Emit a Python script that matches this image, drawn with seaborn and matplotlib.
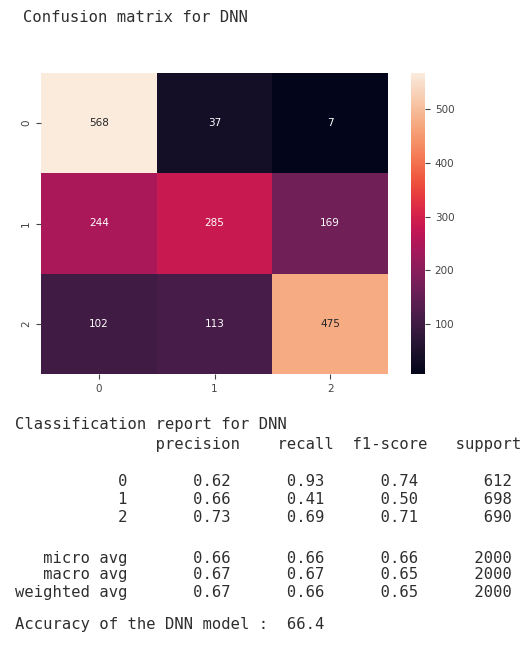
import numpy as np
import pandas as pd
import seaborn as sns
import matplotlib.pyplot as plt

# dados da matriz de confusao
classes = ['0', '1', '2']
linha_0 = [568, 37, 7]
linha_1 = [244, 285, 169]
linha_2 = [102, 113, 475]

# relatorio de classificacao
rotulos = ['0', '1', '2', 'micro avg', 'macro avg', 'weighted avg']
precision = [0.62, 0.66, 0.73, 0.66, 0.67, 0.67]
recall = [0.93, 0.41, 0.69, 0.66, 0.67, 0.66]
f1_score = [0.74, 0.50, 0.71, 0.66, 0.65, 0.65]
support = [612, 698, 690, 2000, 2000, 2000]
acuracia = 66.4

cm = pd.DataFrame([linha_0, linha_1, linha_2], index=classes, columns=classes)

fig = plt.figure(figsize=(5.2, 6.45), dpi=100)
W, H = 520, 645

def caixa(x0, y0, x1, y1):
    return [x0 / W, 1 - y1 / H, (x1 - x0) / W, (y1 - y0) / H]

ax = fig.add_axes(caixa(41, 73, 388, 374))
cax = fig.add_axes(caixa(411, 73, 425, 374))

sns.heatmap(cm, annot=True, fmt='d', ax=ax, cbar_ax=cax, annot_kws={'size': 7.5})
ax.tick_params(labelsize=7.5, colors='#444444')
ax.set_yticklabels(classes, rotation=90, va='center')
ax.set_xticklabels(classes, rotation=0)
cax.tick_params(labelsize=7.5, colors='#444444')

mono = 'DejaVu Sans Mono'
cor = '#2e2e2e'
fs = 11.15

fig.text(23 / W, 1 - 18 / H, 'Confusion matrix for DNN', family=mono, size=fs, color=cor, va='center')

# linhas do relatorio no formato do sklearn (cabecalho deslocado 1 caractere, como no print original)
linhas = ['Classification report for DNN']
linhas.append(' ' * 14 + ''.join(' {:>9}'.format(h) for h in ['precision', 'recall', 'f1-score', 'support']))
for i, r in enumerate(rotulos):
    linhas.append('{:>12s} '.format(r) + ' {:>9.2f}'.format(precision[i]) + ' {:>9.2f}'.format(recall[i])
                  + ' {:>9.2f}'.format(f1_score[i]) + ' {:>9}'.format(support[i]))
linhas.append('Accuracy of the DNN model :  {}'.format(acuracia))

ys = [425, 444, 482, 499, 517, 558, 575, 592, 625]
for y, t in zip(ys, linhas):
    fig.text(15 / W, 1 - y / H, t, family=mono, size=fs, color=cor, va='center')

fig.savefig('out.png', dpi=100)
